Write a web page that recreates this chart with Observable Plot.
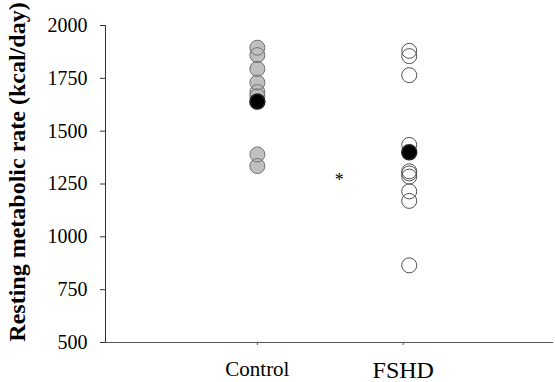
<!DOCTYPE html>
<html>
<head>
<meta charset="utf-8">
<script src="https://cdn.jsdelivr.net/npm/d3@7"></script>
<script src="https://cdn.jsdelivr.net/npm/@observablehq/plot@0.6"></script>
<style>
  html, body { margin: 0; padding: 0; background: white; }
</style>
</head>
<body>
<div id="chart"></div>
<script>
const groups = ["Control", "FSHD"];
const controlValues = [1895, 1860, 1795, 1730, 1685, 1665, 1390, 1335];
const controlMean = [1640];
const fshdValues = [1880, 1855, 1765, 1435, 1310, 1300, 1285, 1215, 1170, 865];
const fshdMean = [1400];
const yTicks = [500, 750, 1000, 1250, 1500, 1750, 2000];
const yLabel = "Resting metabolic rate (kcal/day)";
const sigMark = [{x: 1.54, y: 1266, text: "*"}];

const ctrl = controlValues.map(v => ({x: 1, y: v}));
const ctrlM = controlMean.map(v => ({x: 1, y: v}));
const fshd = fshdValues.map(v => ({x: 2, y: v}));
const fshdM = fshdMean.map(v => ({x: 2, y: v}));

const chart = Plot.plot({
  width: 555,
  height: 382,
  marginLeft: 105,
  marginRight: 2,
  marginTop: 25,
  marginBottom: 40,
  x: {domain: [0, 2.95], axis: null},
  y: {domain: [500, 2000], axis: null},
  style: {fontFamily: "'Liberation Serif', 'Times New Roman', serif", background: "white", color: "black"},
  marks: [
    Plot.ruleX([0], {stroke: "#333"}),
    Plot.ruleY([500], {stroke: "#555"}),
    Plot.axisY({ticks: yTicks, tickSize: 5, tickPadding: 13, fontSize: 20, tickFormat: d => String(d), label: null, stroke: "#333"}),
    Plot.axisX({ticks: [1], tickSize: 3, tickPadding: 16, fontSize: 21, tickFormat: d => groups[d - 1], label: null, stroke: "#555"}),
    Plot.axisX({ticks: [2], tickSize: 3, tickPadding: 15, fontSize: 24, dx: -6, tickFormat: d => groups[d - 1], label: null, stroke: "#555"}),
    Plot.dot(ctrl, {x: "x", y: "y", r: 7.5, fill: "#c0c0c0", stroke: "none"}),
    Plot.dot(ctrl, {x: "x", y: "y", r: 7.5, fill: "none", stroke: "#707070", strokeWidth: 1}),
    Plot.dot(ctrlM, {x: "x", y: "y", r: 7.5, fill: "black", stroke: "#222"}),
    Plot.dot(fshd, {x: "x", y: "y", r: 7.5, fill: "none", stroke: "#505050", strokeWidth: 1}),
    Plot.dot(fshdM, {x: "x", y: "y", r: 7.5, fill: "black", stroke: "#222"}),
    Plot.text(sigMark, {x: "x", y: "y", text: "text", fontSize: 18}),
    Plot.text([yLabel], {frameAnchor: "left", textAnchor: "middle", rotate: -90, dx: -88, dy: -12, fontWeight: "bold", fontSize: 24, text: d => d})
  ]
});
document.getElementById("chart").appendChild(chart);
</script>
</body>
</html>
